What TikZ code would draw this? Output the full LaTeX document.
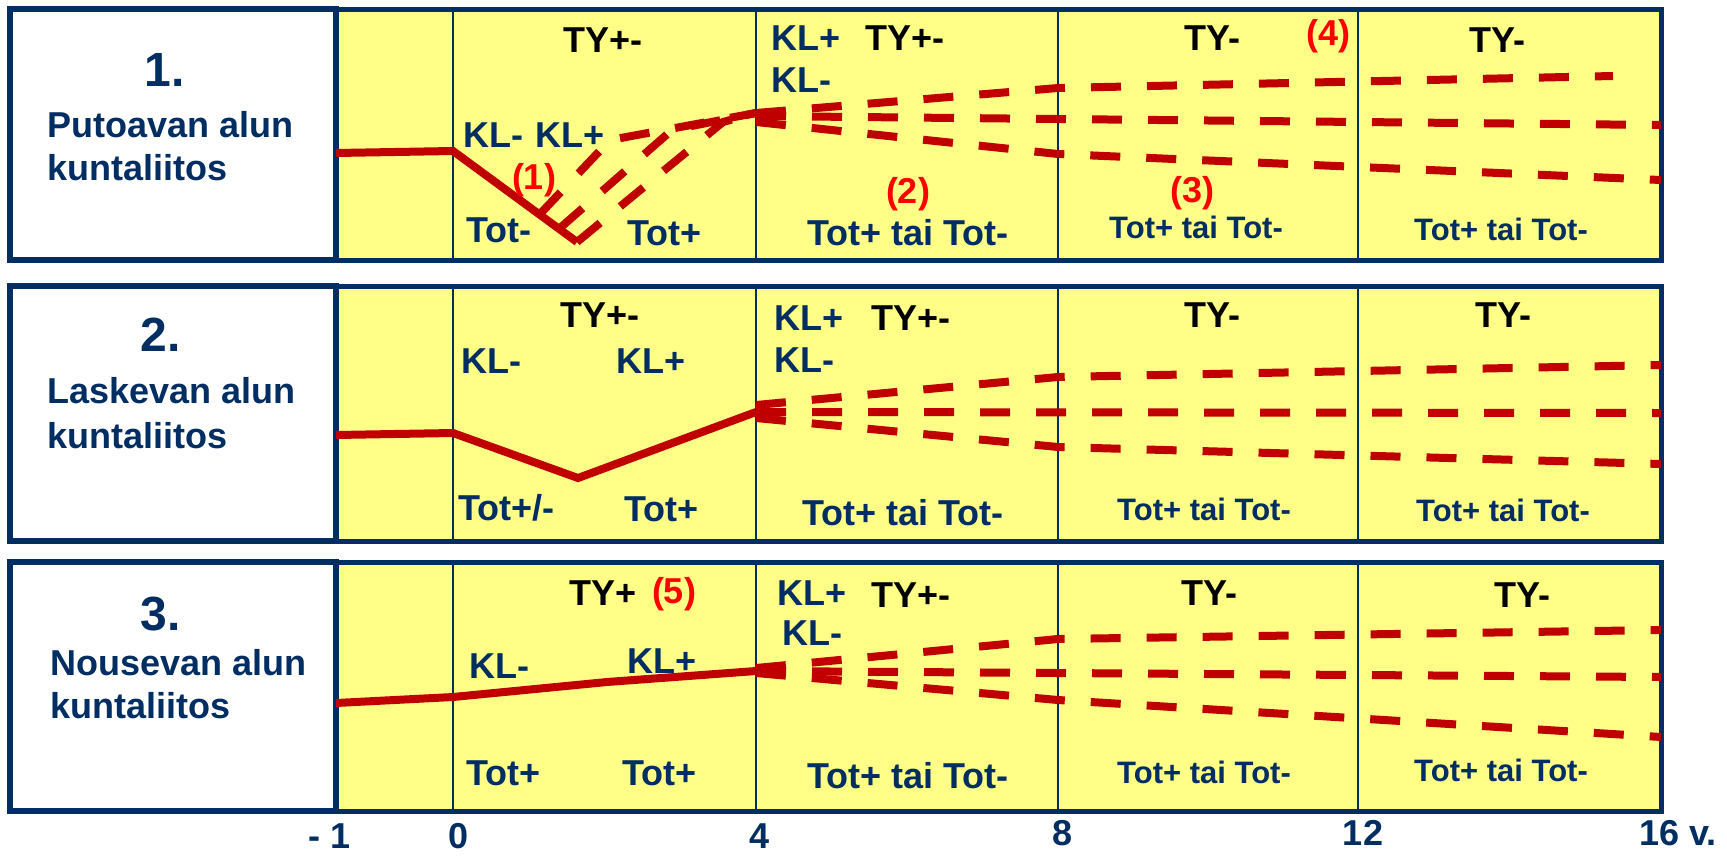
\documentclass[tikz,border=0pt]{standalone}
\usepackage{fontspec}
\setmainfont{Liberation Sans}
\usetikzlibrary{positioning}
\definecolor{navy}{RGB}{0,45,98}
\definecolor{paleyellow}{RGB}{255,255,136}
\definecolor{darkred}{RGB}{192,0,0}
\definecolor{brightred}{RGB}{255,0,0}
\tikzset{
  txt/.style={text=navy,font=\fontsize{36}{36}\selectfont\bfseries,inner sep=0pt,anchor=base west},
  small/.style={txt,font=\fontsize{31}{31}\selectfont\bfseries},
  ty/.style={txt,text=black},
  num/.style={txt,text=brightred,anchor=center},
  big/.style={txt,font=\fontsize{48}{48}\selectfont\bfseries,anchor=center},
  panel/.style={draw=navy,line width=5pt,fill=paleyellow},
  namebox/.style={draw=navy,line width=6pt,fill=white},
  divider/.style={draw=navy,line width=2.5pt},
  trend/.style={draw=darkred,line width=8pt},
  alt/.style={draw=darkred,line width=8pt,dash pattern=on 30pt off 26pt}
}
\begin{document}
\begin{tikzpicture}[x=1pt,y=-1pt]
\useasboundingbox (0,0) rectangle (1727,855);
\foreach \t/\b [count=\r] in {9/260,286/541,562/811}{
  \draw[panel] (336,\t) rectangle (1661,\b);
  \foreach \x in {453,756,1058,1358}
    \draw[divider] (\x,\t) -- (\x,\b);
  \draw[namebox] (10,\t) rectangle (336,\b);
}

% 1. putoava alku
\coordinate (a0) at (336,153); \coordinate (a1) at (453,151);
\coordinate (a2) at (577,242); \coordinate (a3) at (756,113);
\draw[trend] (a0) -- (a1) -- (a2);
\draw[alt] (540,214) -- (610,140) -- (a3);
\draw[alt] (560,228) -- (672,130) -- (a3);
\draw[alt] (a2) -- (723,122) -- (a3);
\draw[alt] (a3) -- (1058,88) -- (1613,76);
\draw[alt] (756,116) -- (1661,125);
\draw[alt] (756,122) -- (1058,154) -- (1661,180);

\node[big] (n1) at (165,70) {1.};
\node[txt] (d1a) at (47,137) {Putoavan alun};
\node[txt] (d1b) at (47,180) {kuntaliitos};
\node[ty] (ty1a) at (563,52) {TY+-};
\node[txt] (kl1a) at (463,147) {KL-};
\node[txt] (kl1b) at (535,147) {KL+};
\node[num] (c1) at (534,180) {(1)};
\node[txt] (tot1a) at (466,242) {Tot-};
\node[txt] (tot1b) at (627,245) {Tot+};
\node[txt] (kl1c) at (771,50) {KL+};
\node[txt] (kl1d) at (771,92) {KL-};
\node[ty] (ty1b) at (865,50) {TY+-};
\node[num] (c2) at (908,194) {(2)};
\node[txt] (tt1a) at (807,245) {Tot+ tai Tot-};
\node[ty] (ty1c) at (1184,50) {TY-};
\node[num] (c4) at (1328,36) {(4)};
\node[num] (c3) at (1192,193) {(3)};
\node[small] (tt1b) at (1109,238) {Tot+ tai Tot-};
\node[ty] (ty1d) at (1469,52) {TY-};
\node[small] (tt1c) at (1414,240) {Tot+ tai Tot-};

% 2. laskeva alku
\coordinate (b0) at (336,435); \coordinate (b1) at (453,433);
\coordinate (b2) at (578,478); \coordinate (b3) at (756,412);
\draw[trend] (b0) -- (b1) -- (b2) -- (b3);
\draw[alt] (756,405) -- (1058,377) -- (1661,365);
\draw[alt] (b3) -- (1661,413);
\draw[alt] (756,418) -- (1058,447) -- (1661,464);

\node[big] (n2) at (161,335) {2.};
\node[txt] (d2a) at (47,403) {Laskevan alun};
\node[txt] (d2b) at (47,448) {kuntaliitos};
\node[ty] (ty2a) at (560,327) {TY+-};
\node[txt] (kl2a) at (461,373) {KL-};
\node[txt] (kl2b) at (616,373) {KL+};
\node[txt] (kl2c) at (774,330) {KL+};
\node[txt] (kl2d) at (774,372) {KL-};
\node[ty] (ty2b) at (871,330) {TY+-};
\node[txt] (tot2a) at (458,520) {Tot+/-};
\node[txt] (tot2b) at (624,521) {Tot+};
\node[txt] (tt2a) at (802,525) {Tot+ tai Tot-};
\node[ty] (ty2c) at (1184,327) {TY-};
\node[ty] (ty2d) at (1475,327) {TY-};
\node[small] (tt2b) at (1117,520) {Tot+ tai Tot-};
\node[small] (tt2c) at (1416,521) {Tot+ tai Tot-};

% 3. nouseva alku
\coordinate (c0) at (336,703); \coordinate (c1) at (453,697);
\coordinate (c2) at (607,682); \coordinate (c3) at (756,671);
\draw[trend] (c0) -- (c1) -- (c2) -- (c3);
\draw[alt] (756,668) -- (1058,639) -- (1661,630);
\draw[alt] (c3) -- (1661,677);
\draw[alt] (756,673) -- (1058,700) -- (1661,737);

\node[big] (n3) at (161,614) {3.};
\node[txt] (d3a) at (50,675) {Nousevan alun};
\node[txt] (d3b) at (50,718) {kuntaliitos};
\node[ty] (ty3a) at (569,605) {TY+};
\node[num] (c5) at (674,594) {(5)};
\node[txt] (kl3a) at (469,678) {KL-};
\node[txt] (kl3b) at (627,673) {KL+};
\node[txt] (kl3c) at (777,605) {KL+};
\node[txt] (kl3d) at (782,645) {KL-};
\node[ty] (ty3b) at (871,607) {TY+-};
\node[txt] (tot3a) at (466,785) {Tot+};
\node[txt] (tot3b) at (622,785) {Tot+};
\node[txt] (tt3a) at (807,788) {Tot+ tai Tot-};
\node[ty] (ty3c) at (1181,605) {TY-};
\node[ty] (ty3d) at (1494,607) {TY-};
\node[small] (tt3b) at (1117,783) {Tot+ tai Tot-};
\node[small] (tt3c) at (1414,781) {Tot+ tai Tot-};

% vuodet
\foreach \x/\t/\y [count=\i] in {330/- 1/848,459/0/848,760/4/848,1062/8/845,1363/12/845}
  \node[txt,anchor=base] (ax\i) at (\x,\y) {\t};
\node[txt] (ax6) at (1639,845) {16 v.};
\end{tikzpicture}
\end{document}
